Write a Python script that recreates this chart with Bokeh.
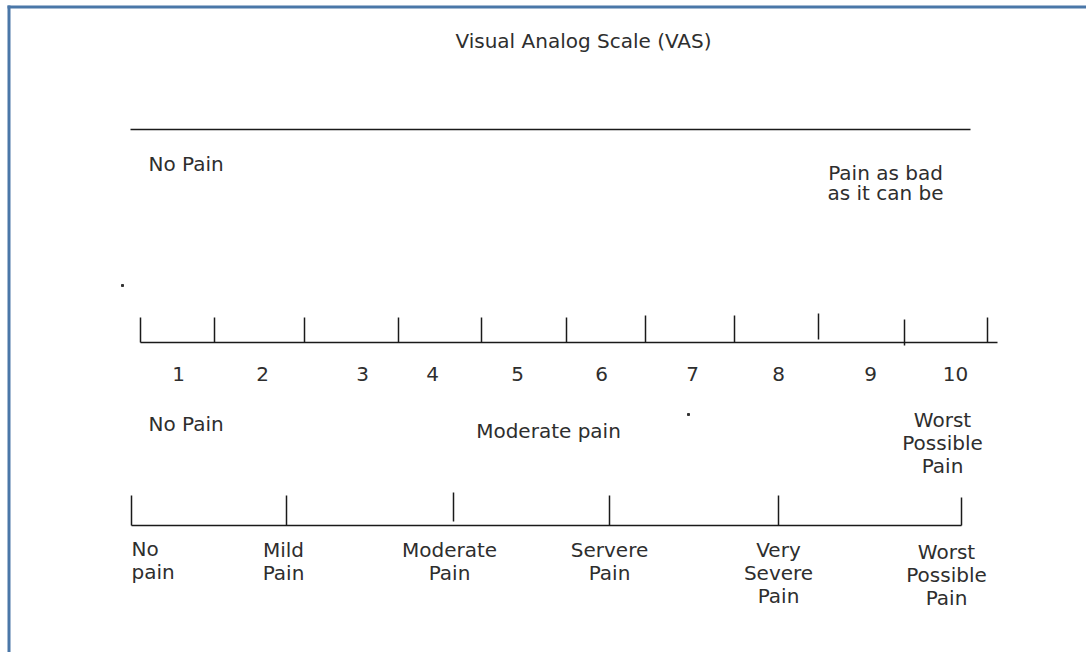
from bokeh.plotting import figure
from bokeh.models import Range1d
from bokeh.core.properties import value
from bokeh.embed import file_html
from bokeh.resources import INLINE

# ---- data ----
title_text = "Visual Analog Scale (VAS)"

# VAS line (continuous, no ticks)
vas_line_x = [130, 970]
vas_left_label = "No Pain"
vas_right_label = "Pain as bad\nas it can be"

# Numeric rating scale: tick positions and number labels
nrs_ticks_x = [140, 214, 304, 398, 481, 566, 645, 734, 818, 904, 987]
nrs_line_x = [140, 997]
nrs_numbers = ["1", "2", "3", "4", "5", "6", "7", "8", "9", "10"]
nrs_numbers_x = [178, 262, 362, 432, 517, 601, 692, 778, 870, 955]
nrs_anchor_labels = ["No Pain", "Moderate pain", "Worst\nPossible\nPain"]

# Verbal rating scale
vrs_ticks_x = [131, 286, 453, 609, 778, 961]
vrs_labels = ["No\npain", "Mild\nPain", "Moderate\nPain", "Servere\nPain",
              "Very\nSevere\nPain", "Worst\nPossible\nPain"]
vrs_labels_x = [131, 283, 449, 609, 778, 946]

FONT = value("DejaVu Sans")
FS = value("20px")
LH = 0.97
TXT = "#2e2e2e"
LINE = "#1a1a1a"

W, H = 1086, 652
p = figure(width=W, height=H, output_backend="svg", toolbar_location=None,
           x_range=Range1d(0, W), y_range=Range1d(H, 0),
           min_border=0, outline_line_color=None, background_fill_color="white")
p.axis.visible = False
p.xgrid.visible = False
p.ygrid.visible = False

# frame border (left and top)
p.line(x=[8.5, 8.5], y=[5, H], line_color="#4a77a8", line_width=3)
p.line(x=[7, W], y=[6.5, 6.5], line_color="#4a77a8", line_width=3)

# title
p.text(x=[583], y=[40], text=[title_text], text_font=FONT, text_font_size=FS,
       text_align="center", text_baseline="middle", text_color=TXT)

# VAS
p.line(x=vas_line_x, y=[129, 129], line_color=LINE, line_width=1.5)
p.text(x=[148], y=[163], text=[vas_left_label], text_font=FONT, text_font_size=FS,
       text_align="left", text_baseline="middle", text_color=TXT)
p.text(x=[885], y=[160], text=[vas_right_label], text_font=FONT, text_font_size=FS,
       text_align="center", text_baseline="top", text_color=TXT, text_line_height=0.86)

# stray dots in the original
p.scatter(x=[122, 688], y=[285, 414], size=2, color="#333333", marker="square")

# NRS
p.line(x=nrs_line_x, y=[342, 342], line_color=LINE, line_width=1.5)
tick_top = [317, 317, 317, 317, 317, 317, 315, 315, 313, 319, 317]
tick_bot = [342, 342, 342, 342, 342, 342, 342, 342, 339, 345, 342]
p.segment(x0=nrs_ticks_x, y0=tick_top, x1=nrs_ticks_x, y1=tick_bot, line_color=LINE, line_width=1.5)
p.text(x=nrs_numbers_x, y=[373] * len(nrs_numbers), text=nrs_numbers, text_font=FONT,
       text_font_size=FS, text_align="center", text_baseline="middle", text_color=TXT)
p.text(x=[148], y=[423], text=[nrs_anchor_labels[0]], text_font=FONT, text_font_size=FS,
       text_align="left", text_baseline="middle", text_color=TXT)
p.text(x=[548], y=[430], text=[nrs_anchor_labels[1]], text_font=FONT, text_font_size=FS,
       text_align="center", text_baseline="middle", text_color=TXT)
p.text(x=[942], y=[407], text=[nrs_anchor_labels[2]], text_font=FONT, text_font_size=FS,
       text_align="center", text_baseline="top", text_color=TXT, text_line_height=LH)

# VRS
p.line(x=[vrs_ticks_x[0], vrs_ticks_x[-1]], y=[525, 525], line_color=LINE, line_width=1.5)
vtop = [495, 495, 492, 495, 495, 497]
vbot = [525, 525, 521, 525, 525, 525]
p.segment(x0=vrs_ticks_x, y0=vtop, x1=vrs_ticks_x, y1=vbot, line_color=LINE, line_width=1.5)
p.text(x=[vrs_labels_x[0]], y=[536], text=[vrs_labels[0]], text_font=FONT,
       text_font_size=FS, text_align="left", text_baseline="top",
       text_color=TXT, text_line_height=LH)
p.text(x=vrs_labels_x[1:5], y=[537] * 4, text=vrs_labels[1:5], text_font=FONT,
       text_font_size=FS, text_align="center", text_baseline="top",
       text_color=TXT, text_line_height=LH)
p.text(x=[vrs_labels_x[5]], y=[539], text=[vrs_labels[5]], text_font=FONT,
       text_font_size=FS, text_align="center", text_baseline="top",
       text_color=TXT, text_line_height=LH)

open("out.html", "w").write(file_html(p, INLINE))
